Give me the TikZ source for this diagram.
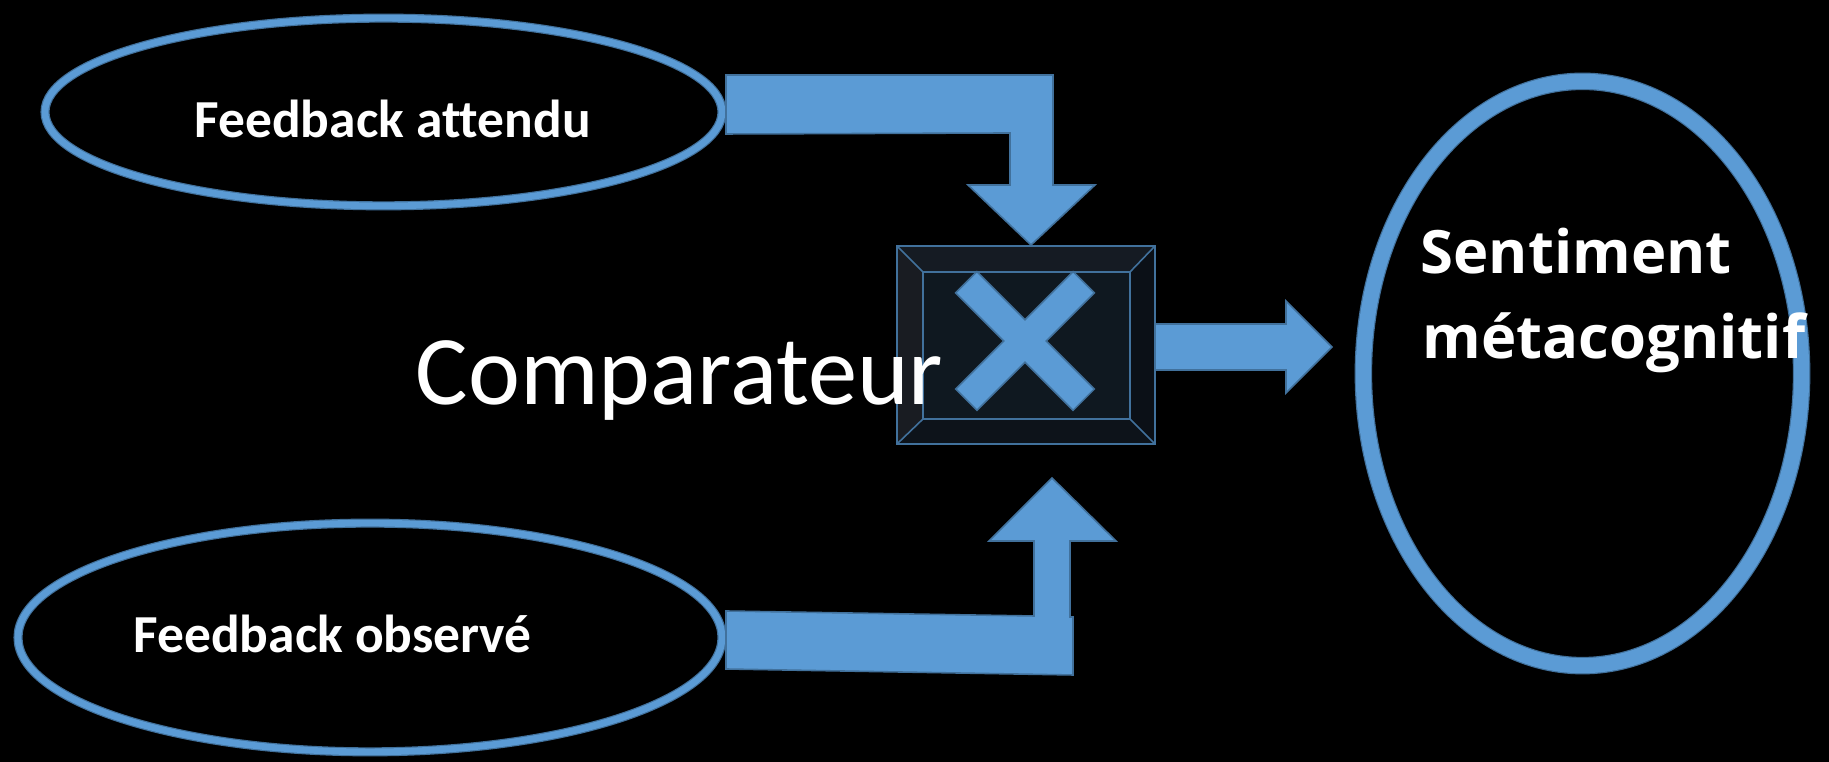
\documentclass[tikz,border=0pt]{standalone}
\usepackage{fontspec}
\setmainfont{Carlito}[Ligatures=NoCommon]
\newfontfamily\sentfont{Open Sans}[Ligatures=NoCommon]
\usetikzlibrary{shapes.geometric}
\definecolor{ablue}{HTML}{5B9BD5}
\definecolor{bblue}{HTML}{41719C}
\definecolor{bvtop}{HTML}{151B23}
\definecolor{bvleft}{HTML}{191C22}
\definecolor{bvright}{HTML}{0B1017}
\definecolor{bvbot}{HTML}{0D131A}
\definecolor{bvin}{HTML}{0F1820}
\tikzset{
  ring/.style={ellipse, draw=bblue, line width=0.34pt, double=ablue, double distance=1.9pt, inner sep=0pt, outer sep=0pt},
  thickring/.style={ring, double distance=4.3pt},
  blockarrow/.style={fill=ablue, draw=bblue, line width=0.45pt, line join=miter},
  lbl/.style={text=white, anchor=base west, inner sep=0pt},
  smalllbl/.style={lbl, font=\fontsize{15.2}{18}\selectfont\bfseries},
  sentlbl/.style={lbl, font=\sentfont\bfseries\fontsize{17}{20}\selectfont},
  bevelline/.style={draw=bblue, line width=0.45pt}
}
\begin{document}
\begin{tikzpicture}[x=0.01cm, y=-0.01cm]
\fill[black] (0,0) rectangle (1829,762);
\useasboundingbox (0,0) rectangle (1829,762);

% ellipses
\node[ring, minimum width=6.766cm, minimum height=1.876cm] (fa) at (383.5,112) {};
\node[ring, minimum width=7.036cm, minimum height=2.286cm] (fo) at (370,637.5) {};
\node[thickring, minimum width=4.38cm, minimum height=5.84cm] (sm) at (1582.5,373.5) {};

% comparator box
\node[minimum width=2.58cm, minimum height=1.98cm, inner sep=0pt, outer sep=0pt] (comp) at (1026,345) {};
\coordinate (iNW) at (923,272);
\coordinate (iNE) at (1130,272);
\coordinate (iSE) at (1130,419);
\coordinate (iSW) at (923,419);
\fill[bvtop] (comp.north west) -- (comp.north east) -- (iNE) -- (iNW) -- cycle;
\fill[bvleft] (comp.north west) -- (iNW) -- (iSW) -- (comp.south west) -- cycle;
\fill[bvright] (comp.north east) -- (comp.south east) -- (iSE) -- (iNE) -- cycle;
\fill[bvbot] (comp.south west) -- (iSW) -- (iSE) -- (comp.south east) -- cycle;
\fill[bvin] (iNW) rectangle (iSE);
\draw[bevelline] (comp.north west) rectangle (comp.south east);
\draw[bevelline] (iNW) rectangle (iSE);
\draw[bevelline] (comp.north west) -- (iNW);
\draw[bevelline] (comp.north east) -- (iNE);
\draw[bevelline] (comp.south east) -- (iSE);
\draw[bevelline] (comp.south west) -- (iSW);

% cross
\begin{scope}[shift={(1025,341)}, rotate=45]
\filldraw[blockarrow] (83,15) -- (83,-15) -- (15,-15) -- (15,-83) -- (-15,-83) -- (-15,-15)
  -- (-83,-15) -- (-83,15) -- (-15,15) -- (-15,83) -- (15,83) -- (15,15) -- cycle;
\end{scope}

% top bent arrow
\filldraw[blockarrow] (726,75) -- (1053,75) -- (1053,185) -- (1095,185) -- (1031,245)
  -- (968,185) -- (1010,185) -- (1010,133) -- (726,134) -- cycle;

% bottom bent arrow
\filldraw[blockarrow] (726,611) -- (1034,616) -- (1034,541) -- (989,541) -- (1052,478)
  -- (1116,541) -- (1070,541) -- (1070,617) -- (1073,617) -- (1073,675) -- (726,669) -- cycle;

% right arrow
\filldraw[blockarrow] (1155,324) -- (1286,324) -- (1286,301) -- (1332,347) -- (1286,393)
  -- (1286,370) -- (1155,370) -- cycle;

% texts
\node[smalllbl] (tfa) at (194,138) {Feedback attendu};
\node[smalllbl] (tfo) at (133,653) {Feedback observé};
\node[lbl, font=\fontsize{28}{34}\selectfont] (tcomp) at (415,405) {Comparateur};
\node[sentlbl] (ts1) at (1420,274) {Sentiment};
\node[sentlbl] (ts2) at (1422,359) {métacognitif};
\end{tikzpicture}
\end{document}
